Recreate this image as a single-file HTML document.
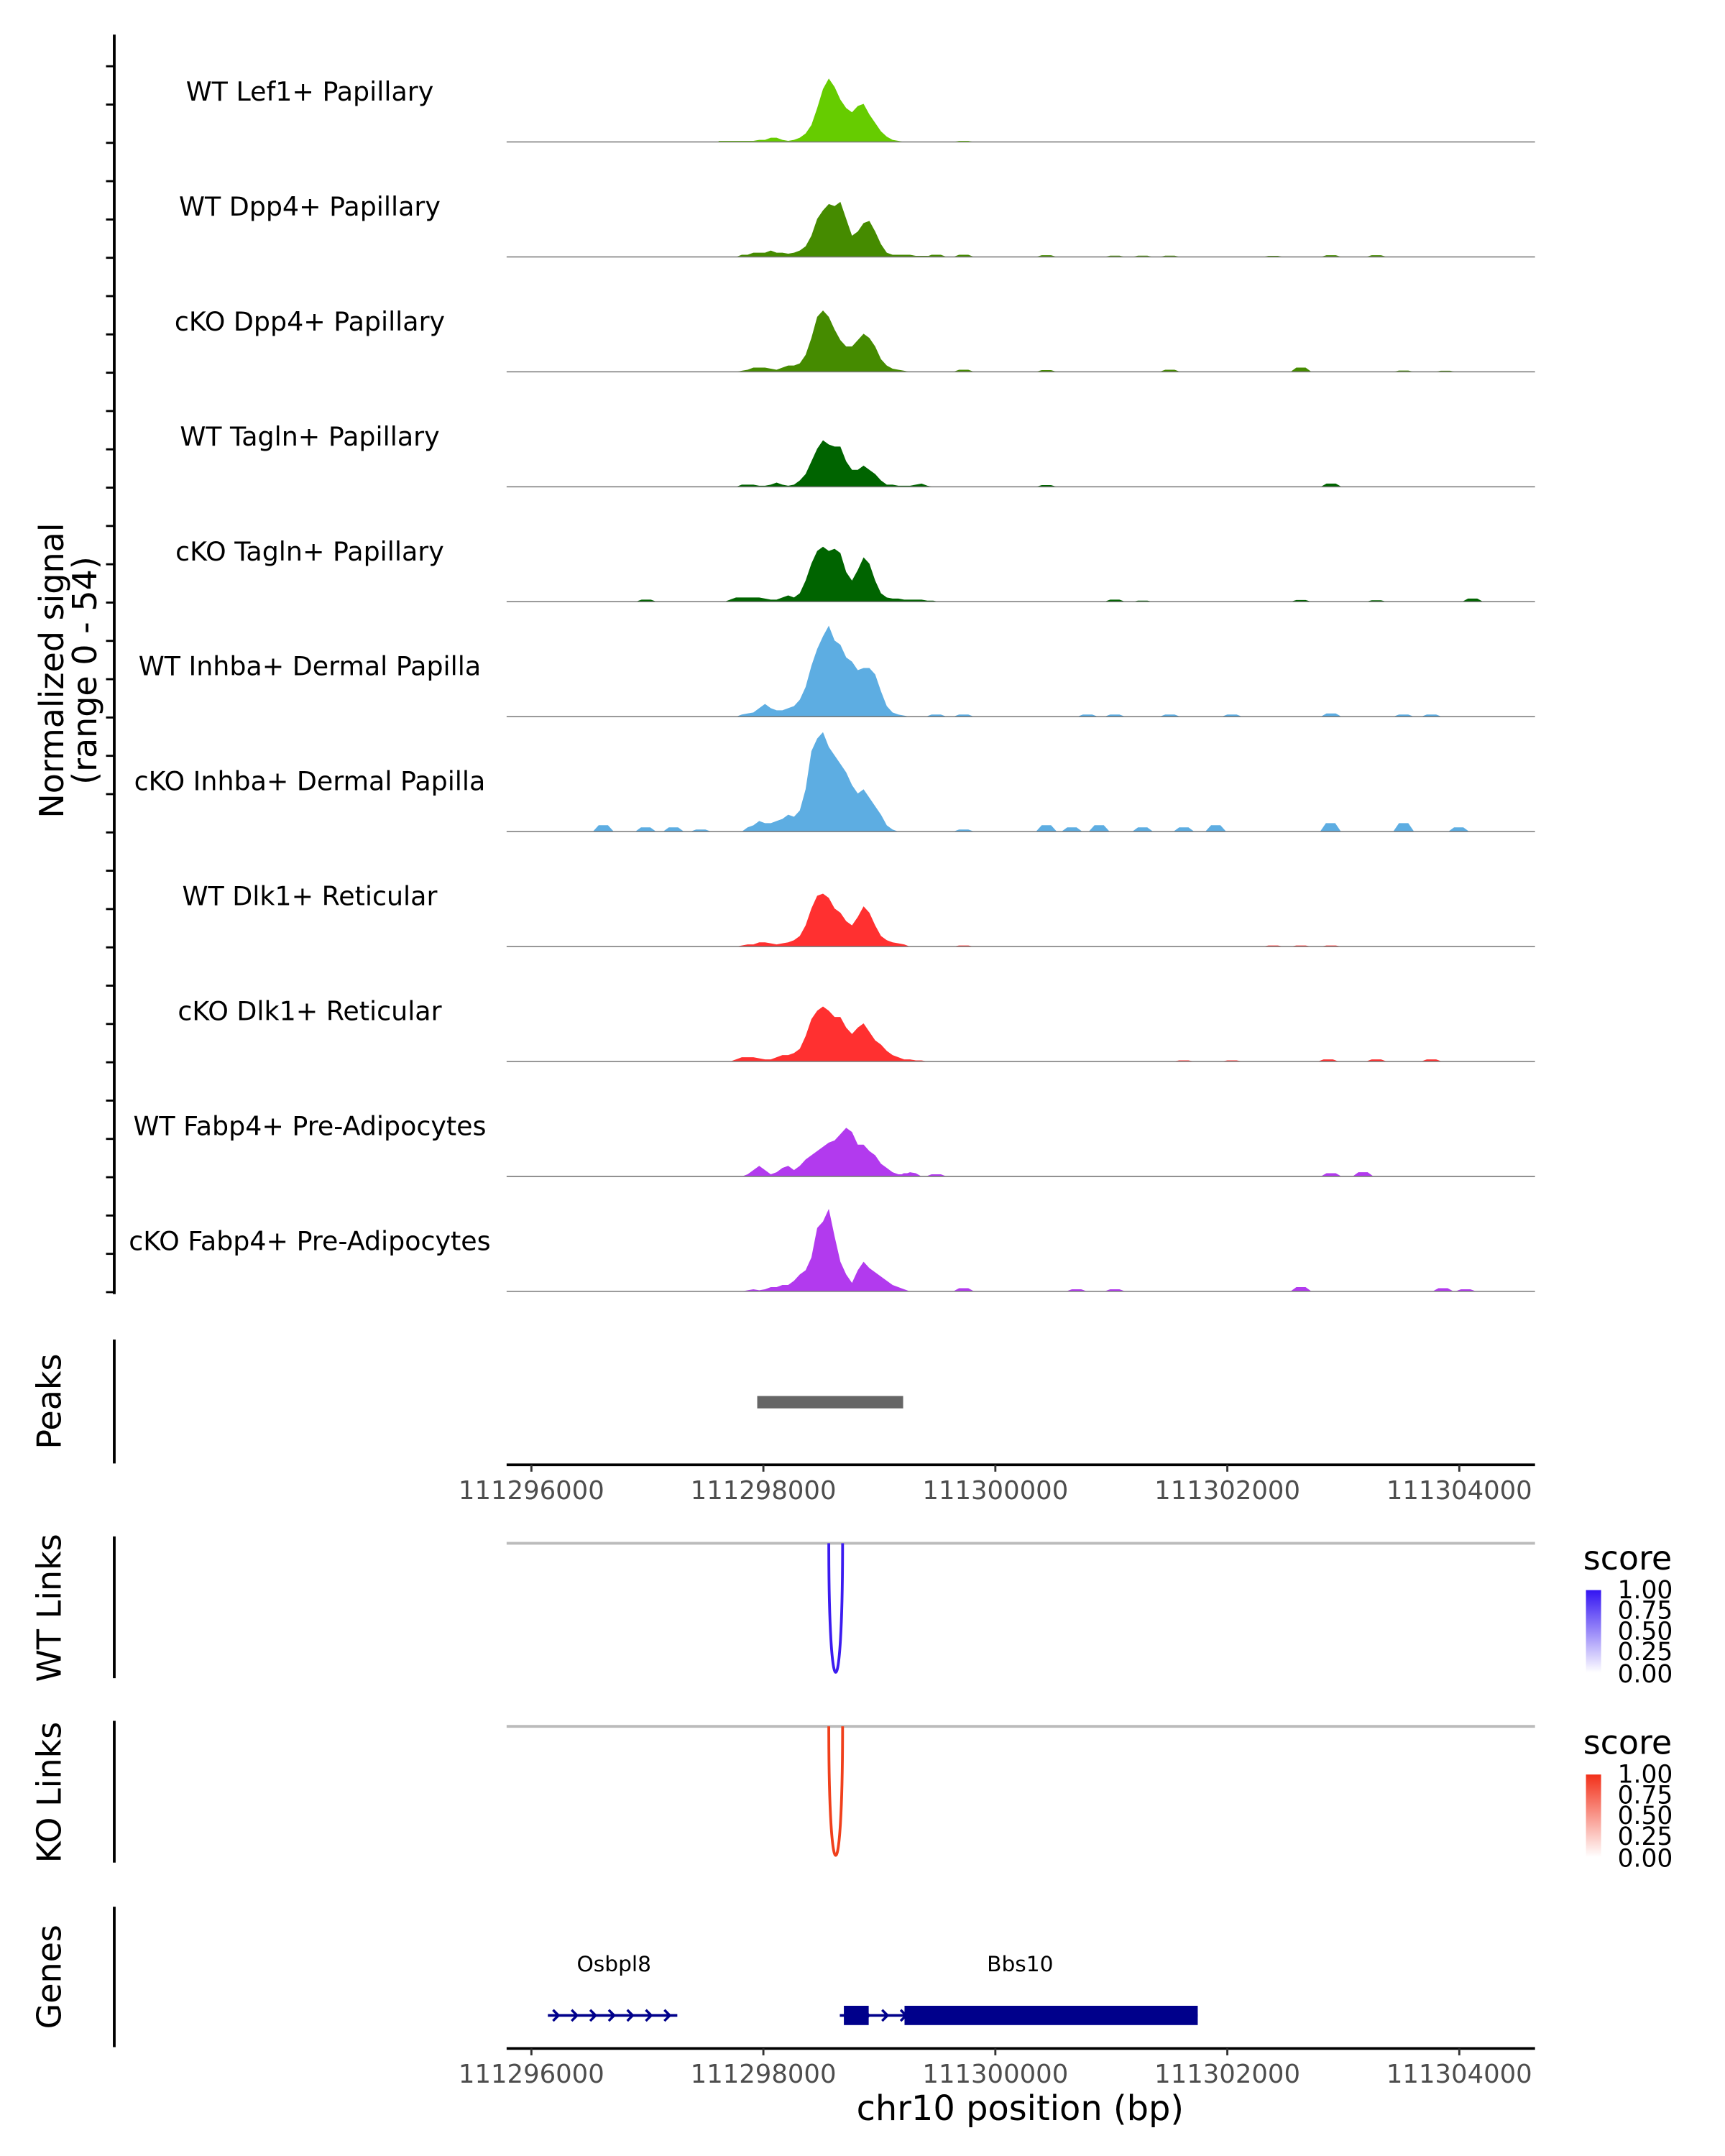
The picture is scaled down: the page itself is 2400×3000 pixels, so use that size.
<!DOCTYPE html>
<html><head><meta charset="utf-8"><style>
html,body{margin:0;padding:0;background:#fff;}
svg{display:block;font-family:"DejaVu Sans","Liberation Sans",sans-serif;}
</style></head><body>
<svg id="chart" width="2400" height="3000" viewBox="0 0 1253 1566" xmlns="http://www.w3.org/2000/svg">
<g id="tracks"></g>
<g id="static">
  <line x1="83" y1="25" x2="83" y2="940" stroke="#000" stroke-width="2"/>
  <g id="yticks"></g>
  <text transform="translate(38,487) rotate(-90)" text-anchor="middle" font-size="24" dy="8">Normalized signal</text>
  <text transform="translate(62,487) rotate(-90)" text-anchor="middle" font-size="24" dy="8">(range 0 - 54)</text>

  <line x1="83" y1="973" x2="83" y2="1063" stroke="#000" stroke-width="2"/>
  <text transform="translate(36,1018) rotate(-90)" text-anchor="middle" font-size="24" dy="8">Peaks</text>
  <rect id="peakbar" y="1014" height="9" fill="#666"/>
  <line x1="368" y1="1064" x2="1115" y2="1064" stroke="#000" stroke-width="2"/>
  <g id="xticks1"></g>

  <line x1="83" y1="1116" x2="83" y2="1219" stroke="#000" stroke-width="2"/>
  <text transform="translate(36,1168) rotate(-90)" text-anchor="middle" font-size="24" dy="8">WT Links</text>
  <line x1="368" y1="1121" x2="1115" y2="1121" stroke="#bbb" stroke-width="2"/>
  <path id="wtlink" fill="none" stroke="#3c1cf0" stroke-width="2"/>

  <line x1="83" y1="1250" x2="83" y2="1353" stroke="#000" stroke-width="2"/>
  <text transform="translate(36,1302) rotate(-90)" text-anchor="middle" font-size="24" dy="8">KO Links</text>
  <line x1="368" y1="1254" x2="1115" y2="1254" stroke="#bbb" stroke-width="2"/>
  <path id="kolink" fill="none" stroke="#f0401c" stroke-width="2"/>

  <defs>
    <linearGradient id="gb" x1="0" y1="1" x2="0" y2="0"><stop offset="0" stop-color="#fff"/><stop offset="1" stop-color="#3314f2"/></linearGradient>
    <linearGradient id="gr" x1="0" y1="1" x2="0" y2="0"><stop offset="0" stop-color="#fff"/><stop offset="1" stop-color="#f2301a"/></linearGradient>
  </defs>
  <g>
    <text x="1150" y="1140" font-size="24">score</text>
    <rect x="1152" y="1155" width="11" height="60" fill="url(#gb)"/>
    <g font-size="18" fill="#000"><text x="1175" y="1161">1.00</text><text x="1175" y="1176">0.75</text><text x="1175" y="1191">0.50</text><text x="1175" y="1206">0.25</text><text x="1175" y="1222">0.00</text></g>
  </g>
  <g>
    <text x="1150" y="1274" font-size="24">score</text>
    <rect x="1152" y="1289" width="11" height="60" fill="url(#gr)"/>
    <g font-size="18" fill="#000"><text x="1175" y="1295">1.00</text><text x="1175" y="1310">0.75</text><text x="1175" y="1325">0.50</text><text x="1175" y="1340">0.25</text><text x="1175" y="1356">0.00</text></g>
  </g>

  <line x1="83" y1="1385" x2="83" y2="1487" stroke="#000" stroke-width="2"/>
  <text transform="translate(36,1436) rotate(-90)" text-anchor="middle" font-size="24" dy="8">Genes</text>
  <g id="genes"></g>
  <line x1="368" y1="1488" x2="1115" y2="1488" stroke="#000" stroke-width="2"/>
  <g id="xticks2"></g>
  <text x="741" y="1540" text-anchor="middle" font-size="25">chr10 position (bp)</text>
</g>
</svg>
<script>
const xTicks = [111296000,111298000,111300000,111302000,111304000];
const binStart = 111297614, binStep = 50;
const trackNames = ["WT Lef1+ Papillary","WT Dpp4+ Papillary","cKO Dpp4+ Papillary","WT Tagln+ Papillary","cKO Tagln+ Papillary","WT Inhba+ Dermal Papilla","cKO Inhba+ Dermal Papilla","WT Dlk1+ Reticular","cKO Dlk1+ Reticular","WT Fabp4+ Pre-Adipocytes","cKO Fabp4+ Pre-Adipocytes"];
const trackColors = ["#66cc00","#458b00","#458b00","#006400","#006400","#5dade2","#5dade2","#ff3030","#ff3030","#b23aee","#b23aee"];
const sigLef1 = [0.5,0.5,0.5,0.5,0.5,0.5,0.5,1,1,2,2,1,0.5,1,2,4,8,16,25,30,26,20,16,14,17,18,13,9,5,2.5,1,0.5,0,0,0,0,0,0,0,0,0];
const sigWtDpp4 = [0,0,0,0,1,1,2,2,2,3,2,2,1.5,2,3,5,10,18,22,25,24,26,18,10,12,16,17,12,6,2,1,1,1,1,0.5,0.5,0.5,0,0,0,0];
const sigKoDpp4 = [0,0,0,0,0.5,1,2,2,2,1.5,1,2,3,3,4,8,16,26,29,26,20,15,12,12,15,18,16,12,6,3,1.5,1,0.5,0,0,0,0,0,0,0,0];
const sigWtTagln = [0,0,0,0,1,1,1,0.5,0.5,1,2,1,0.5,1,3,6,12,18,22,20,19,19,12,8,8,10,8,6,3,1,1,0.5,0.5,0.5,1,1.5,0.5,0,0,0,0];
const sigKoTagln = [0,0,1,2,2,2,2,2,1.5,1,1,2,3,2,4,10,18,24,26,24,25,23,14,10,15,21,18,10,4,2,1.5,1.5,1,1,1,1,0.5,0.5,0,0,0];
const sigWtInhba = [0,0,0,0,1,1.5,2,4,6,4,3,3,4,5,8,14,24,32,38,43,36,34,28,26,22,23,23,20,12,5,2,1,0.5,0,0,0,0,0,0,0,0];
const sigKoInhba = [0,0,0,0,0,2,3,5,4,4,5,6,8,7,10,20,38,44,47,40,36,32,28,22,18,20,16,12,8,3,1,0,0,0,0,0,0,0,0,0,0];
const sigWtDlk1 = [0,0,0,0,0.5,1,1,2,2,1.5,1,1.5,2,3,5,10,18,24,25,23,18,16,12,10,14,19,16,10,5,3,2,1.5,1,0,0,0,0,0,0,0,0];
const sigKoDlk1 = [0,0,0,1,2,2,2,1.5,1,1,2,3,3,4,6,12,20,24,26,24,21,21,16,13,16,18,14,10,8,5,3,2,1,1,0.5,0.5,0,0,0,0,0];
const sigWtFabp4 = [0,0,0,0,0,1,3,5,3,1,2,4,5,3,5,8,10,12,14,16,17,20,23,21,15,15,12,10,6,4,2,1,1,2,1.5,0,0,0,0,0,0];
const sigKoFabp4 = [0,0,0,0,0,0.5,1,0.5,1,2,2,3,3,5,8,10,16,30,33,39,26,14,8,4,10,14,11,9,7,5,3,2,1,0,0,0,0,0,0,0,0];
const blipLef1 = [[111299727,0.5]];
const blipWtDpp4 = [[111299490,1],[111299727,1],[111300440,0.8],[111301030,0.6],[111301270,0.6],[111301505,0.6],[111302395,0.5],[111302895,0.8],[111303285,0.8]];
const blipKoDpp4 = [[111299727,1],[111300440,0.8],[111301505,1],[111302635,2],[111303520,0.6],[111303880,0.5]];
const blipWtTagln = [[111300440,0.8],[111302895,1.5]];
const blipKoTagln = [[111296990,1],[111301030,1],[111301270,0.5],[111302635,0.8],[111303285,0.7],[111304115,1.5]];
const blipWtInhba = [[111299490,1],[111299727,1],[111300795,1],[111301030,1],[111301505,1],[111302040,1],[111302895,1.5],[111303520,1],[111303760,1]];
const blipKoInhba = [[111296620,3],[111296985,2],[111297225,2],[111297460,1],[111299727,1],[111300440,3],[111300660,2],[111300895,3],[111301270,2],[111301625,2],[111301900,3],[111302890,4],[111303520,4],[111303995,2]];
const blipWtDlk1 = [[111299727,0.5],[111302395,0.5],[111302635,0.5],[111302895,0.5]];
const blipKoDlk1 = [[111301625,0.5],[111302040,0.5],[111302870,1],[111303285,1],[111303760,1]];
const blipWtFabp4 = [[111299250,1.5],[111299490,1],[111302895,1.5],[111303170,2]];
const blipKoFabp4 = [[111299727,1.5],[111300700,1],[111301030,1],[111302635,2],[111303860,1.5],[111304055,1]];
const signals = [sigLef1,sigWtDpp4,sigKoDpp4,sigWtTagln,sigKoTagln,sigWtInhba,sigKoInhba,sigWtDlk1,sigKoDlk1,sigWtFabp4,sigKoFabp4];
const blips = [blipLef1,blipWtDpp4,blipKoDpp4,blipWtTagln,blipKoTagln,blipWtInhba,blipKoInhba,blipWtDlk1,blipKoDlk1,blipWtFabp4,blipKoFabp4];
const yMax = 54;
const peakRegion = [111297947,111299205];
const linkWT = [111298564,111298683,1.0];
const linkKO = [111298564,111298683,1.0];
const genes = [{name:"Osbpl8",start:111296142,end:111297258,exons:[]},{name:"Bbs10",start:111298659,end:111301745,exons:[[111298694,111298908],[111299217,111301745]]}];

const NS="http://www.w3.org/2000/svg";
const X0=111296000, PX0=386, K=0.08425;
const xs = bp => PX0 + (bp-X0)*K;
const baseY = i => 103 + i*83.5;
const trackH = 83;
const ys = (v,i) => baseY(i) - v/yMax*trackH;
function mk(tag,attrs,parent){const e=document.createElementNS(NS,tag);for(const k in attrs)e.setAttribute(k,attrs[k]);parent.appendChild(e);return e;}
const tg=document.getElementById('tracks');
signals.forEach((s,i)=>{
  const g=mk('g',{},tg);
  
  
  let d='M'+xs(binStart)+','+baseY(i);
  s.forEach((v,j)=>{d+=' L'+xs(binStart+j*binStep).toFixed(2)+','+ys(v,i).toFixed(2);});
  d+=' L'+xs(binStart+(s.length-1)*binStep)+','+baseY(i)+' Z';
  const p=mk('path',{d:d,fill:trackColors[i]},g);
  
  
  blips[i].forEach(b=>{
    const bd='M'+xs(b[0]-90)+','+baseY(i)+' L'+xs(b[0]-40)+','+ys(b[1],i)+' L'+xs(b[0]+40)+','+ys(b[1],i)+' L'+xs(b[0]+90)+','+baseY(i)+' Z';
    const bp=mk('path',{d:bd,fill:trackColors[i]},g);
    
    
  });
  const l=mk('line',{x1:368,x2:1115,y1:baseY(i),y2:baseY(i),stroke:'#777','stroke-width':0.8},g);
  
  
  const t=mk('text',{x:225,y:baseY(i)-30,'text-anchor':'middle','font-size':19},g);
  
  
  t.textContent=trackNames[i];
});
const yt=document.getElementById('yticks');
for(let y=48;y<=940;y+=27.83){const t=mk('line',{x1:77,x2:83,y1:y,y2:y,stroke:'#000','stroke-width':1.5},yt);
  
  }
const pb=document.getElementById('peakbar');
pb.setAttribute('x',xs(peakRegion[0]));pb.setAttribute('width',xs(peakRegion[1])-xs(peakRegion[0]));
[['xticks1',1064],['xticks2',1488]].forEach(([id,y])=>{
  const g=document.getElementById(id);
  xTicks.forEach(v=>{
    const l=mk('line',{x1:xs(v),x2:xs(v),y1:y,y2:y+5,stroke:'#333','stroke-width':1.5},g);
    
    
    const t=mk('text',{x:xs(v),y:y+25,'text-anchor':'middle','font-size':18.5,fill:'#4d4d4d'},g);
    
    
    t.textContent=v;
  });
});
function arc(id,lk,y0){const a=xs(lk[0]),b=xs(lk[1]),depth=94*lk[2];
  document.getElementById(id).setAttribute('d','M'+a+','+y0+' C'+a+','+(y0+depth*1.33)+' '+b+','+(y0+depth*1.33)+' '+b+','+y0);}
arc('wtlink',linkWT,1121);arc('kolink',linkKO,1254);
const gg=document.getElementById('genes');
genes.forEach(gn=>{
  const g=mk('g',{},gg);
  
  
  mk('line',{x1:xs(gn.start),x2:xs(gn.end),y1:1464,y2:1464,stroke:'#00008b','stroke-width':2},g);
  for(let p=gn.start+80;p<gn.end;p+=160){const x=xs(p);
    mk('path',{d:'M'+(x-3)+',1460 L'+(x+1)+',1464 L'+(x-3)+',1468',fill:'none',stroke:'#00008b','stroke-width':1.8},g);}
  gn.exons.forEach(e=>{mk('rect',{x:xs(e[0]),y:1457,width:xs(e[1])-xs(e[0]),height:14,fill:'#00008b'},g);});
  const t=mk('text',{x:(xs(gn.start)+xs(gn.end))/2,y:1432,'text-anchor':'middle','font-size':15.5},g);
  
  
  t.textContent=gn.name;
});
document.querySelectorAll('#genes text')[0].setAttribute('x',446);
document.querySelectorAll('#genes text')[1].setAttribute('x',741);
</script>
</body></html>
